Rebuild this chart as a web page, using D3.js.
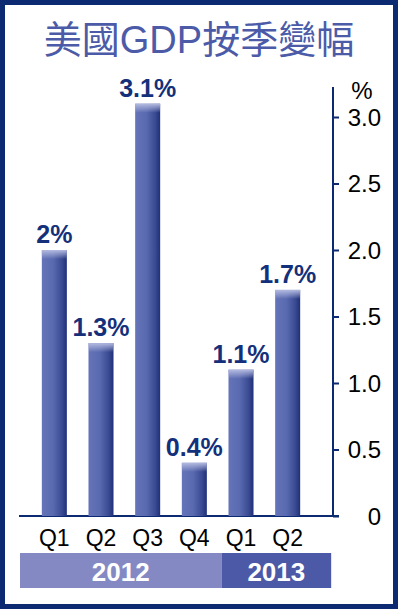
<!DOCTYPE html>
<html lang="zh-Hant">
<head>
<meta charset="UTF-8">
<title>美國GDP按季變幅</title>
<script src="https://cdn.jsdelivr.net/npm/d3@7"></script>
<style>
    body { margin: 0; background: #fff; }
    svg { display: block; }
</style>
</head>
<body>
<main></main>
<script>
    // data
    var quarters = ["Q1", "Q2", "Q3", "Q4", "Q1", "Q2"];
    var years = ["2012", "2012", "2012", "2012", "2013", "2013"];
    var growth = [2.0, 1.3, 3.1, 0.4, 1.1, 1.7];
    var valueLabels = ["2%", "1.3%", "3.1%", "0.4%", "1.1%", "1.7%"];
    var yTicks = [0, 0.5, 1.0, 1.5, 2.0, 2.5, 3.0];
    var yearBands = [
        { year: "2012", color: "#8489c4" },
        { year: "2013", color: "#4b59a6" }
    ];

    var W = 398, H = 609;
    var font = "'Liberation Sans', Arial, sans-serif";

    var svg = d3.select("main").append("svg")
        .attr("width", W)
        .attr("height", H);

    var defs = svg.append("defs");
    var grad = defs.append("linearGradient").attr("id", "barGrad")
        .attr("x1", "0").attr("x2", "1").attr("y1", "0").attr("y2", "0");
    grad.append("stop").attr("offset", "0%").attr("stop-color", "#6574b8");
    grad.append("stop").attr("offset", "45%").attr("stop-color", "#5a6ab0");
    grad.append("stop").attr("offset", "80%").attr("stop-color", "#3b4b93");
    grad.append("stop").attr("offset", "100%").attr("stop-color", "#1f3078");

    var capGrad = defs.append("linearGradient").attr("id", "capGrad")
        .attr("x1", "0").attr("x2", "0").attr("y1", "0").attr("y2", "1");
    capGrad.append("stop").attr("offset", "0%").attr("stop-color", "#b4bbe0").attr("stop-opacity", 1);
    capGrad.append("stop").attr("offset", "100%").attr("stop-color", "#b4bbe0").attr("stop-opacity", 0);

    // frame
    svg.append("rect")
        .attr("x", 2.5).attr("y", 2.5)
        .attr("width", W - 5).attr("height", H - 5)
        .attr("fill", "#fff")
        .attr("stroke", "#0b2a72")
        .attr("stroke-width", 5);

    svg.append("text")
        .attr("x", 199)
        .attr("y", 53)
        .attr("text-anchor", "middle")
        .style("font-family", "'Liberation Sans', 'Noto Sans CJK TC', sans-serif")
        .style("font-size", "38px")
        .style("fill", "#4c5ba8")
        .text("美國GDP按季變幅");

    var x = d3.scaleBand()
        .domain(d3.range(quarters.length))
        .range([31, 311])
        .paddingInner(0.464)
        .paddingOuter(0.232);

    var y = d3.scaleLinear()
        .domain([0, 3])
        .range([516, 117]);

    var axisX = 333;

    // baseline
    svg.append("line")
        .attr("x1", 19).attr("x2", axisX + 6)
        .attr("y1", y(0)).attr("y2", y(0))
        .attr("stroke", "#0b2a72")
        .attr("stroke-width", 2);

    // right axis
    var axis = svg.append("g")
        .attr("transform", "translate(" + axisX + ",0)")
        .call(d3.axisRight(y).tickValues(yTicks).tickSize(6).tickPadding(8)
            .tickFormat(function (d) { return d === 0 ? "0" : d3.format(".1f")(d); }));
    axis.select(".domain").remove();
    axis.append("line")
        .attr("x1", 0).attr("x2", 0)
        .attr("y1", 87).attr("y2", y(0) + 1)
        .attr("stroke", "#0b2a72").attr("stroke-width", 2);
    axis.selectAll(".tick line").attr("stroke", "#0b2a72").attr("stroke-width", 2);
    axis.selectAll(".tick text")
        .attr("x", 48)
        .attr("dy", "0.35em")
        .attr("text-anchor", "end")
        .style("font-family", font)
        .style("font-size", "24px")
        .style("fill", "#000");

    svg.append("text")
        .attr("x", 362).attr("y", 99)
        .attr("text-anchor", "middle")
        .style("font-family", font)
        .style("font-size", "24px")
        .text("%");

    // bars
    var bars = svg.append("g").selectAll("g")
        .data(growth)
        .enter().append("g");

    bars.append("rect")
        .attr("x", function (d, i) { return x(i); })
        .attr("y", function (d) { return y(d); })
        .attr("width", x.bandwidth())
        .attr("height", function (d) { return y(0) - y(d); })
        .attr("fill", "url(#barGrad)");

    bars.append("rect")
        .attr("x", function (d, i) { return x(i); })
        .attr("y", function (d) { return y(d); })
        .attr("width", x.bandwidth())
        .attr("height", 9)
        .attr("fill", "url(#capGrad)");

    bars.append("text")
        .attr("x", function (d, i) { return x(i) + x.bandwidth() / 2; })
        .attr("y", function (d) { return y(d) - 7; })
        .attr("text-anchor", "middle")
        .style("font-family", font)
        .style("font-size", "25px")
        .style("font-weight", "bold")
        .style("fill", "#14307a")
        .text(function (d, i) { return valueLabels[i]; });

    // quarter labels
    svg.append("g").selectAll("text")
        .data(quarters)
        .enter().append("text")
        .attr("x", function (d, i) { return x(i) + x.bandwidth() / 2; })
        .attr("y", 546)
        .attr("text-anchor", "middle")
        .style("font-family", font)
        .style("font-size", "23px")
        .style("fill", "#000")
        .text(function (d) { return d; });

    // year bands
    yearBands.forEach(function (b, k) {
        var idx = d3.range(years.length).filter(function (i) { return years[i] === b.year; });
        var first = idx[0], last = idx[idx.length - 1];
        var left = k === 0 ? 20 : x(first) - 7;
        var right = k === yearBands.length - 1 ? x(last) + x.bandwidth() + 31 : x(last + 1) - 7;
        svg.append("rect")
            .attr("x", left).attr("y", 553)
            .attr("width", right - left).attr("height", 35)
            .attr("fill", b.color);
        svg.append("text")
            .attr("x", (left + right) / 2)
            .attr("y", 581)
            .attr("text-anchor", "middle")
            .style("font-family", font)
            .style("font-size", "26px")
            .style("font-weight", "bold")
            .style("fill", "#fff")
            .text(b.year);
    });
</script>
</body>
</html>
